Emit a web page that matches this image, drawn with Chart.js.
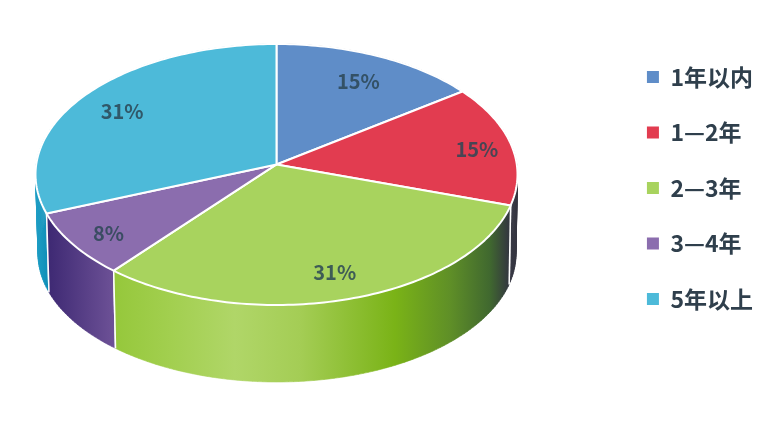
<!DOCTYPE html>
<html>
<head>
<meta charset="utf-8">
<style>
  html, body { margin: 0; padding: 0; background: #fff; }
  canvas { display: block; filter: blur(0.4px); }
</style>
<script src="https://cdn.jsdelivr.net/npm/chart.js@4"></script>
</head>
<body>
<canvas id="chart" width="768" height="429"></canvas>
<script>
const categories = ["1年以内", "1—2年", "2—3年", "3—4年", "5年以上"];
const shares = [15, 15, 31, 8, 31];
const faceColors = ["#5f8dc8", "#e23c50", "#a8d35e", "#8b6dae", "#4dbad9"];

// shape of the tilted disc, in page pixels
const topRim = { x: 276.5, y: 174.5, rx: 241, ry: 130.5 };
const bottomRim = { x: 277, y: 254, rx: 239, ry: 128 };
const tilt = -0.077; // how far the perspective pushes the centre of the disc up

// colour of the side wall of each slice, running left to right: [x, colour]
const wallStops = [
    [[500, "#3a3d4a"], [518, "#34343f"]],
    [[500, "#3a3d4a"], [518, "#34343f"]],
    [[117, "#96c83c"], [170, "#a2cf4f"], [235, "#b0d668"], [300, "#a4cd55"], [395, "#7ab317"], [450, "#5f8f27"], [490, "#40682f"], [508, "#34393f"]],
    [[50, "#3f2a74"], [117, "#6f5398"]],
    [[35, "#1f9fc6"], [50, "#0d8cb5"]]
];
const wallOrder = [4, 0, 1, 3, 2];

const labelNudge = [[4, -1], [24, 0], [5, 9], [-17, 10], [-10, 0]];

// a point of the flat disc (angle as Chart.js gives it, radius 0..1) as seen in perspective
function project(rim, angle, r) {
    const px = Math.cos(angle) * r;
    const py = Math.sin(angle) * r;
    const d = 1 + tilt * py;
    return {
        x: rim.x + rim.rx * px * Math.sqrt(1 - tilt * tilt) / d,
        y: rim.y + rim.ry * (py + tilt) / d
    };
}

function stepsFor(from, to) {
    return Math.max(2, Math.ceil(Math.abs(to - from) / 0.02));
}

function traceRim(ctx, rim, from, to) {
    const steps = stepsFor(from, to);
    for (let i = 0; i <= steps; i++) {
        const p = project(rim, from + (to - from) * i / steps, 1);
        ctx.lineTo(p.x, p.y);
    }
}

// swept side of a slice, one quad per step so the outline reaches the silhouette
function traceWall(ctx, from, to) {
    const steps = stepsFor(from, to);
    for (let i = 0; i < steps; i++) {
        const a = from + (to - from) * i / steps;
        const b = from + (to - from) * (i + 1) / steps;
        const p = [project(topRim, a, 1), project(topRim, b, 1), project(bottomRim, b, 1), project(bottomRim, a, 1)];
        ctx.moveTo(p[0].x, p[0].y);
        ctx.lineTo(p[1].x, p[1].y);
        ctx.lineTo(p[2].x, p[2].y);
        ctx.lineTo(p[3].x, p[3].y);
        ctx.closePath();
    }
}

function drawSeam(ctx, angle) {
    const a = project(topRim, angle, 1);
    const b = project(bottomRim, angle, 1);
    ctx.beginPath();
    ctx.moveTo(a.x, a.y);
    ctx.lineTo(b.x, b.y);
    ctx.stroke();
}

const disc3d = {
    id: "disc3d",
    beforeDatasetDraw(chart, args) {
        const ctx = chart.ctx;
        const arcs = args.meta.data;
        ctx.save();
        ctx.lineJoin = "round";

        wallOrder.forEach(i => {
            const arc = arcs[i];
            const stops = wallStops[i];
            const x0 = stops[0][0];
            const x1 = stops[stops.length - 1][0];
            const grad = ctx.createLinearGradient(x0, 0, x1, 0);
            stops.forEach(s => grad.addColorStop((s[0] - x0) / (x1 - x0), s[1]));
            ctx.beginPath();
            traceWall(ctx, arc.startAngle, arc.endAngle);
            ctx.fillStyle = grad;
            ctx.strokeStyle = grad;
            ctx.lineWidth = 0.6;
            ctx.fill();
            ctx.stroke();
            ctx.strokeStyle = "#fff";
            ctx.lineWidth = 1.5;
            drawSeam(ctx, arc.startAngle);
            drawSeam(ctx, arc.endAngle);
        });

        arcs.forEach(arc => {
            const apex = project(topRim, 0, 0);
            ctx.beginPath();
            ctx.moveTo(apex.x, apex.y);
            traceRim(ctx, topRim, arc.startAngle, arc.endAngle);
            ctx.closePath();
            ctx.fillStyle = arc.options.backgroundColor;
            ctx.fill();
            ctx.strokeStyle = "#fff";
            ctx.lineWidth = 2;
            ctx.stroke();
        });

        ctx.font = "bold 20px 'Noto Sans CJK SC', 'Noto Sans', sans-serif";
        ctx.textAlign = "center";
        ctx.textBaseline = "middle";
        ctx.fillStyle = "#2b4755";
        ctx.globalAlpha = 0.85;
        arcs.forEach((arc, i) => {
            const p = project(topRim, (arc.startAngle + arc.endAngle) / 2, 0.75);
            ctx.fillText(shares[i] + "%", p.x + labelNudge[i][0], p.y + labelNudge[i][1]);
        });
        ctx.restore();
        return false; // the disc above replaces the flat pie
    }
};

new Chart(document.getElementById("chart"), {
    type: "pie",
    data: {
        labels: categories,
        datasets: [{
            data: shares,
            backgroundColor: faceColors,
            borderWidth: 0
        }]
    },
    plugins: [disc3d],
    options: {
        responsive: false,
        animation: false,
        layout: { padding: { top: 33, right: 5 } },
        plugins: {
            tooltip: { enabled: false },
            legend: {
                position: "right",
                align: "start",
                labels: {
                    usePointStyle: true,
                    pointStyle: "rect",
                    boxWidth: 12,
                    boxHeight: 12,
                    padding: 32.5,
                    color: "#2f3f4c",
                    font: { family: "'Noto Sans CJK SC', 'Noto Sans', sans-serif", size: 23, weight: "bold" }
                }
            }
        }
    }
});
</script>
</body>
</html>
